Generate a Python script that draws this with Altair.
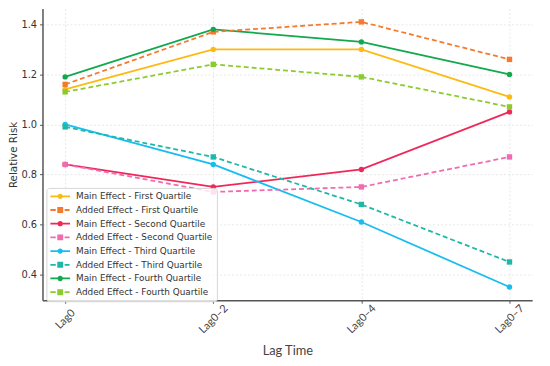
import altair as alt
import pandas as pd

lags = ["Lag0", "Lag0–2", "Lag0–4", "Lag0–7"]
series_names = [
    "Main Effect - First Quartile",
    "Added Effect - First Quartile",
    "Main Effect - Second Quartile",
    "Added Effect - Second Quartile",
    "Main Effect - Third Quartile",
    "Added Effect - Third Quartile",
    "Main Effect - Fourth Quartile",
    "Added Effect - Fourth Quartile",
]
main_first = [1.14, 1.30, 1.30, 1.11]
added_first = [1.16, 1.37, 1.41, 1.26]
main_second = [0.84, 0.75, 0.82, 1.05]
added_second = [0.84, 0.73, 0.75, 0.87]
main_third = [1.00, 0.84, 0.61, 0.35]
added_third = [0.99, 0.87, 0.68, 0.45]
main_fourth = [1.19, 1.38, 1.33, 1.20]
added_fourth = [1.13, 1.24, 1.19, 1.07]
series_values = [main_first, added_first, main_second, added_second,
                 main_third, added_third, main_fourth, added_fourth]
colors = ["#FDBA12", "#F57A2E", "#F0285A", "#F06BB0",
          "#18BDF0", "#1DB8A8", "#12A84E", "#8CCB2E"]
y_ticks = [0.4, 0.6, 0.8, 1.0, 1.2, 1.4]

rows = []
for name, vals in zip(series_names, series_values):
    kind = "Main" if name.startswith("Main") else "Added"
    for lag, v in zip(lags, vals):
        rows.append({"lag": lag, "value": v, "series": name, "kind": kind,
                     "marker": "circle" if kind == "Main" else "square"})
df = pd.DataFrame(rows)

# legend symbols (unit = 4.5 px): line piece + marker
solid_circle = ("M-1,-0.2H3.44V0.2H-1Z "
                "M0.62,0A0.6,0.6,0,1,1,1.82,0A0.6,0.6,0,1,1,0.62,0Z")
dashed_square = ("M-1,-0.2H0.22V0.2H-1Z M2.22,-0.2H3.33V0.2H2.22Z "
                 "M0.56,-0.67H1.89V0.67H0.56Z")
legend_shapes = [solid_circle if n.startswith("Main") else dashed_square
                 for n in series_names]

x_enc = alt.X(
    "lag:O", sort=lags,
    scale=alt.Scale(type="point", padding=0.153, domain=lags),
    axis=alt.Axis(title="Lag Time", labelAngle=-45, labelAlign="center",
                  labelBaseline="middle", labelPadding=16, tickSize=3,
                  labelFont="Lato", labelFontSize=11, labelColor="#444",
                  titleFont="Lato", titleFontSize=13, titleFontWeight="normal",
                  titleColor="#444", titleY=51, titleBaseline="middle",
                  domainColor="#555", domainWidth=1.5, tickColor="#555",
                  grid=True, gridColor="#e2e2e2", gridDash=[2, 2],
                  gridWidth=0.8, labelOverlap=False),
)
y_enc = alt.Y(
    "value:Q",
    scale=alt.Scale(domain=[0.297, 1.463], nice=False, zero=False),
    axis=alt.Axis(title="Relative Risk", values=y_ticks, format=".1f",
                  tickSize=3, labelPadding=3, labelFont="DejaVu Sans",
                  labelFontSize=10, labelColor="#333", titleFont="DejaVu Sans",
                  titleFontSize=10.5, titleFontWeight="normal",
                  titleColor="#333", titleX=-29, titleBaseline="middle",
                  domainColor="#555", domainWidth=1.5, tickColor="#555",
                  grid=True, gridColor="#e2e2e2", gridDash=[2, 2],
                  gridWidth=0.8),
)
color_nolegend = alt.Color("series:N",
                           scale=alt.Scale(domain=series_names, range=colors),
                           legend=None)

base = alt.Chart(df)

main_lines = base.transform_filter(alt.datum.kind == "Main").mark_line(
    strokeWidth=1.8).encode(x=x_enc, y=y_enc, color=color_nolegend,
                            detail="series:N")
added_lines = base.transform_filter(alt.datum.kind == "Added").mark_line(
    strokeWidth=1.8, strokeDash=[5, 3]).encode(x=x_enc, y=y_enc,
                                               color=color_nolegend,
                                               detail="series:N")
points = base.mark_point(filled=True, size=30, opacity=1).encode(
    x=x_enc, y=y_enc, color=color_nolegend,
    shape=alt.Shape("marker:N", scale=None))

legend_layer = base.transform_filter(alt.datum.value < -100).mark_point(
    filled=True, opacity=1).encode(
    x=x_enc, y=y_enc,
    color=alt.Color("series:N",
                    scale=alt.Scale(domain=series_names, range=colors),
                    title=None,
                    legend=alt.Legend(
                        orient="none", legendX=4, legendY=182,
                        symbolType=solid_circle, symbolSize=81,
                        symbolStrokeWidth=0, labelFont="DejaVu Sans",
                        labelFontSize=9, labelColor="#333", labelOffset=17,
                        rowPadding=3.9, padding=4,
                        fillColor="rgba(255,255,255,0.8)",
                        strokeColor="#d5d5d5", cornerRadius=3,
                        labelLimit=300)),
    shape=alt.Shape("series:N",
                    scale=alt.Scale(domain=series_names, range=legend_shapes),
                    title=None,
                    legend=alt.Legend(orient="none", legendX=4, legendY=182)),
)

chart = alt.layer(main_lines, added_lines, points, legend_layer).resolve_legend(
    color="independent", shape="independent"
).properties(
    width=497, height=296,
    autosize=alt.AutoSizeParams(type="none"),
    padding={"left": 35, "top": -2, "right": 10, "bottom": 56},
    background="white",
).configure_view(stroke=None)

chart.save("out.html", embed_options={"renderer": "svg", "actions": False})
